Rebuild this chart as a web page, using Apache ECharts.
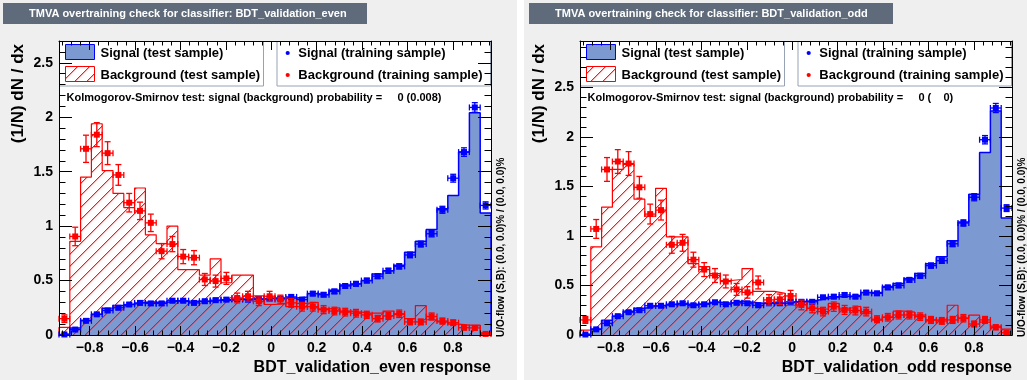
<!DOCTYPE html>
<html>
<head>
<meta charset="utf-8">
<script src="https://cdn.jsdelivr.net/npm/echarts@6/dist/echarts.min.js"></script>
<style>
  html, body { margin: 0; padding: 0; background: #ffffff; }
  #chart { width: 1027px; height: 380px; }
</style>
</head>
<body>
<div id="chart"></div>
<script>
// Binning of the BDT response histograms (shared by both folds)
const XMIN = -0.935;
const XMAX = 0.968;
const NBINS = 40;

// Tick labels
const xMajorTicks = [-0.8, -0.6, -0.4, -0.2, 0, 0.2, 0.4, 0.6, 0.8];
const yMajorTicks = [0, 0.5, 1, 1.5, 2, 2.5];

// Panel titles and texts
const classifierNames = ['BDT_validation_even', 'BDT_validation_odd'];
const ksResults = ['0 (0.008)', '0 (    0)'];
const yMaxes = [2.70, 2.966];

// ---- fold "even" ----
const sigTestEven = [0.01, 0.065, 0.135, 0.19, 0.245, 0.27, 0.285, 0.30, 0.30, 0.30,
  0.31, 0.31, 0.31, 0.31, 0.32, 0.32, 0.33, 0.33, 0.33, 0.34,
  0.34, 0.34, 0.35, 0.38, 0.37, 0.41, 0.46, 0.47, 0.50, 0.56,
  0.59, 0.64, 0.76, 0.86, 0.97, 1.16, 1.28, 1.68, 2.04, 1.12];
const bkgTestEven = [0.07, 0.86, 1.45, 1.94, 1.51, 1.30, 1.17, 1.35, 0.92, 0.84,
  1.00, 0.60, 0.60, 0.55, 0.70, 0.48, 0.55, 0.55, 0.36, 0.28,
  0.29, 0.26, 0.29, 0.30, 0.24, 0.25, 0.22, 0.21, 0.20, 0.20,
  0.22, 0.19, 0.15, 0.27, 0.14, 0.12, 0.10, 0.09, 0.09, 0.02];
const sigTrainEven = [0.005, 0.05, 0.13, 0.19, 0.225, 0.25, 0.28, 0.295, 0.29, 0.29,
  0.315, 0.315, 0.295, 0.31, 0.32, 0.325, 0.33, 0.325, 0.33, 0.335,
  0.335, 0.35, 0.325, 0.38, 0.37, 0.40, 0.45, 0.47, 0.50, 0.54,
  0.59, 0.63, 0.735, 0.835, 0.93, 1.15, 1.44, 1.68, 2.09, 1.19];
const sigTrainErrEven = [0.005, 0.01, 0.012, 0.014, 0.015, 0.016, 0.016, 0.017, 0.017, 0.017,
  0.017, 0.017, 0.017, 0.017, 0.017, 0.017, 0.018, 0.018, 0.018, 0.018,
  0.018, 0.018, 0.018, 0.019, 0.019, 0.02, 0.02, 0.021, 0.021, 0.022,
  0.023, 0.024, 0.026, 0.027, 0.029, 0.032, 0.036, 0.039, 0.044, 0.033];
const bkgTrainEven = [0.15, 0.905, 1.71, 1.84, 1.67, 1.47, 1.215, 1.14, 1.03, 0.77,
  0.835, 0.72, 0.71, 0.51, 0.495, 0.52, 0.34, 0.356, 0.31, 0.356,
  0.326, 0.295, 0.26, 0.26, 0.233, 0.22, 0.21, 0.20, 0.185, 0.15,
  0.175, 0.195, 0.12, 0.12, 0.17, 0.128, 0.113, 0.067, 0.065, 0.01];
const bkgTrainErrEven = [0.035, 0.085, 0.125, 0.11, 0.105, 0.095, 0.085, 0.08, 0.08, 0.07,
  0.07, 0.065, 0.065, 0.055, 0.055, 0.055, 0.045, 0.045, 0.04, 0.045,
  0.04, 0.04, 0.04, 0.04, 0.037, 0.035, 0.035, 0.035, 0.033, 0.03,
  0.032, 0.034, 0.027, 0.027, 0.032, 0.028, 0.026, 0.02, 0.02, 0.008];

// ---- fold "odd" ----
const sigTestOdd = [0.01, 0.06, 0.15, 0.19, 0.24, 0.27, 0.29, 0.30, 0.31, 0.31,
  0.31, 0.32, 0.33, 0.32, 0.34, 0.33, 0.32, 0.33, 0.32, 0.33,
  0.34, 0.35, 0.37, 0.387, 0.39, 0.40, 0.43, 0.43, 0.49, 0.52,
  0.57, 0.62, 0.72, 0.79, 0.95, 1.14, 1.42, 1.84, 2.26, 1.18];
const bkgTestOdd = [0.05, 0.89, 1.29, 1.67, 1.72, 1.37, 1.20, 1.48, 0.99, 0.99,
  0.72, 0.69, 0.62, 0.55, 0.56, 0.67, 0.44, 0.44, 0.42, 0.30,
  0.31, 0.27, 0.26, 0.32, 0.27, 0.29, 0.22, 0.15, 0.18, 0.24,
  0.23, 0.20, 0.15, 0.16, 0.30, 0.17, 0.20, 0.13, 0.09, 0.06];
const sigTrainOdd = [0.005, 0.057, 0.118, 0.19, 0.23, 0.25, 0.295, 0.295, 0.31, 0.32,
  0.30, 0.31, 0.33, 0.31, 0.325, 0.32, 0.30, 0.32, 0.32, 0.335,
  0.335, 0.335, 0.38, 0.387, 0.404, 0.387, 0.428, 0.42, 0.48, 0.50,
  0.556, 0.597, 0.70, 0.75, 0.92, 1.13, 1.39, 1.97, 2.29, 1.28];
const sigTrainErrOdd = [0.005, 0.01, 0.012, 0.014, 0.015, 0.016, 0.017, 0.017, 0.017, 0.017,
  0.017, 0.017, 0.018, 0.017, 0.018, 0.017, 0.017, 0.017, 0.017, 0.018,
  0.018, 0.018, 0.019, 0.019, 0.02, 0.019, 0.02, 0.02, 0.021, 0.022,
  0.023, 0.024, 0.026, 0.027, 0.029, 0.032, 0.036, 0.042, 0.046, 0.034];
const bkgTrainOdd = [0.152, 1.07, 1.67, 1.75, 1.73, 1.49, 1.22, 1.26, 0.91, 0.93,
  0.76, 0.66, 0.60, 0.54, 0.46, 0.43, 0.53, 0.354, 0.36, 0.394,
  0.303, 0.27, 0.236, 0.286, 0.253, 0.247, 0.236, 0.159, 0.179, 0.202,
  0.202, 0.185, 0.152, 0.142, 0.152, 0.169, 0.111, 0.152, 0.078, 0.023];
const bkgTrainErrOdd = [0.035, 0.095, 0.12, 0.12, 0.12, 0.11, 0.1, 0.1, 0.085, 0.085,
  0.075, 0.07, 0.07, 0.065, 0.06, 0.058, 0.065, 0.053, 0.053, 0.056,
  0.049, 0.046, 0.043, 0.047, 0.045, 0.044, 0.043, 0.035, 0.038, 0.04,
  0.04, 0.038, 0.035, 0.034, 0.035, 0.037, 0.03, 0.035, 0.025, 0.013];

const folds = [
  { sigTest: sigTestEven, bkgTest: bkgTestEven, sigTrain: sigTrainEven, sigErr: sigTrainErrEven, bkgTrain: bkgTrainEven, bkgErr: bkgTrainErrEven },
  { sigTest: sigTestOdd, bkgTest: bkgTestOdd, sigTrain: sigTrainOdd, sigErr: sigTrainErrOdd, bkgTrain: bkgTrainOdd, bkgErr: bkgTrainErrOdd }
];

// ---- styling / layout ----
const FONT = '"Liberation Sans", Arial, Helvetica, sans-serif';
const SIG_FILL = '#7d99d1';
const SIG_LINE = '#0000ff';
const BKG_LINE = '#ff0000';
const PANEL_BG = '#efefef';
const HEADER_BG = '#5f6b7b';
const LEGEND_BORDER = '#97a3b4';

const panelOffset = [0, 521];
const panelBg = [[0, 517], [524, 503]];
const headerX = [3, 529];
const PLOT_L = 59, PLOT_T = 41, PLOT_W = 432, PLOT_H = 294;
const AXIS_Z = 20;

const BIN_W = (XMAX - XMIN) / NBINS;
const xMinorTicks = [];
for (let k = -25; k <= 25; k++) {
  const v = Math.round(k * 0.04 * 1000) / 1000;
  if (k % 5 !== 0 && v > XMIN && v < XMAX) xMinorTicks.push(v);
}
function yMinorTicks(ymax) {
  const out = [];
  for (let k = 1; k * 0.1 < ymax; k++) if (k % 5 !== 0) out.push(Math.round(k * 10) / 100);
  return out;
}

// diagonal red hatching ("/") for the background histogram, painted pixel by pixel
function makeHatch() {
  const s = 12;
  const c = document.createElement('canvas');
  c.width = s; c.height = s;
  const g = c.getContext('2d');
  g.clearRect(0, 0, s, s);
  for (let i = 0; i < s; i++) {
    g.fillStyle = 'rgba(255,0,0,0.9)';
    g.fillRect(i, s - 1 - i, 1, 1);
    g.fillStyle = 'rgba(255,0,0,0.35)';
    g.fillRect(i, (s - i) % s, 1, 1);
  }
  return c;
}
const hatchCanvas = makeHatch();
const hatchFill = { image: hatchCanvas, repeat: 'repeat' };

const fmtX = v => (v < 0 ? '\u2212' + String(Math.abs(v)) : String(v));

const grid = [], xAxis = [], yAxis = [], series = [], graphic = [];

folds.forEach((f, p) => {
  const ox = panelOffset[p];
  const ymax = yMaxes[p];
  grid.push({ left: ox + PLOT_L, top: PLOT_T, width: PLOT_W, height: PLOT_H,
    show: true, backgroundColor: '#ffffff', borderWidth: 0, containLabel: false });

  const base = { gridIndex: p, type: 'value', min: XMIN, max: XMAX, z: AXIS_Z, splitLine: { show: false } };
  const line = { show: true, onZero: false, lineStyle: { color: '#000000', width: 1 } };
  const noLine = { show: false, onZero: false };
  // bottom axis with labels + major ticks
  xAxis.push(Object.assign({}, base, { position: 'bottom', axisLine: line,
    axisTick: { show: true, inside: true, length: 9, customValues: xMajorTicks, lineStyle: { color: '#000', width: 1 } },
    axisLabel: { show: true, customValues: xMajorTicks, formatter: fmtX, margin: 6,
      fontFamily: FONT, fontWeight: 'bold', fontSize: 14, color: '#000' } }));
  // top frame with major ticks
  xAxis.push(Object.assign({}, base, { position: 'top', axisLine: line,
    axisTick: { show: true, inside: true, length: 9, customValues: xMajorTicks, lineStyle: { color: '#000', width: 1 } },
    axisLabel: { show: false } }));
  // minor ticks bottom / top
  ['bottom', 'top'].forEach(pos => xAxis.push(Object.assign({}, base, { position: pos,
    axisLine: noLine,
    axisTick: { show: true, inside: true, length: 4.5, customValues: xMinorTicks, lineStyle: { color: '#000', width: 1 } },
    axisLabel: { show: false } })));

  const ybase = { gridIndex: p, type: 'value', min: 0, max: ymax, z: AXIS_Z, splitLine: { show: false } };
  yAxis.push(Object.assign({}, ybase, { position: 'left', axisLine: line,
    axisTick: { show: true, inside: true, length: 13, customValues: yMajorTicks, lineStyle: { color: '#000', width: 1 } },
    axisLabel: { show: true, customValues: yMajorTicks, margin: 6,
      fontFamily: FONT, fontWeight: 'bold', fontSize: 14, color: '#000' } }));
  yAxis.push(Object.assign({}, ybase, { position: 'right', axisLine: line,
    axisTick: { show: true, inside: true, length: 13, customValues: yMajorTicks, lineStyle: { color: '#000', width: 1 } },
    axisLabel: { show: false } }));
  ['left', 'right'].forEach(pos => yAxis.push(Object.assign({}, ybase, { position: pos,
    axisLine: noLine,
    axisTick: { show: true, inside: true, length: 6.5, customValues: yMinorTicks(ymax), lineStyle: { color: '#000', width: 1 } },
    axisLabel: { show: false } })));

  const xi = p * 4, yi = p * 4;

  // step histogram: one point per lower bin edge, closed down to zero at both ends
  function histData(vals) {
    const d = [[XMIN, 0]];
    vals.forEach((v, i) => d.push([XMIN + i * BIN_W, v]));
    d.push([XMAX, vals[vals.length - 1]]);
    d.push([XMAX, 0]);
    return d;
  }
  series.push({ type: 'line', name: 'Signal (test sample)', xAxisIndex: xi, yAxisIndex: yi,
    data: histData(f.sigTest), step: 'end', symbol: 'none', z: 2,
    lineStyle: { color: SIG_LINE, width: 1.5 }, areaStyle: { color: SIG_FILL, opacity: 1, origin: 'start' } });
  series.push({ type: 'line', name: 'Background (test sample)', xAxisIndex: xi, yAxisIndex: yi,
    data: histData(f.bkgTest), step: 'end', symbol: 'none', z: 3,
    lineStyle: { color: BKG_LINE, width: 1.2 }, areaStyle: { color: hatchFill, opacity: 1, origin: 'start' } });

  // training samples: markers with x (bin width) and y error bars
  function pointSeries(name, vals, errs, color) {
    return { type: 'custom', name, xAxisIndex: xi, yAxisIndex: yi, z: 5,
      data: vals.map((v, i) => [XMIN + (i + 0.5) * BIN_W, v, errs[i]]),
      renderItem: (params, api) => {
        const x = api.value(0), y = api.value(1), e = api.value(2);
        const c = api.coord([x, y]);
        const l = api.coord([x - BIN_W / 2, y]);
        const r = api.coord([x + BIN_W / 2, y]);
        const t = api.coord([x, y + e]);
        const b = api.coord([x, Math.max(0, y - e)]);
        const st = { stroke: color, lineWidth: 1.3 };
        const cap = 3;
        const kids = [
          { type: 'line', shape: { x1: l[0], y1: c[1], x2: r[0], y2: c[1] }, style: st },
          { type: 'line', shape: { x1: l[0], y1: c[1] - cap, x2: l[0], y2: c[1] + cap }, style: st },
          { type: 'line', shape: { x1: r[0], y1: c[1] - cap, x2: r[0], y2: c[1] + cap }, style: st },
          { type: 'line', shape: { x1: c[0], y1: t[1], x2: c[0], y2: b[1] }, style: st },
          { type: 'line', shape: { x1: c[0] - cap, y1: t[1], x2: c[0] + cap, y2: t[1] }, style: st },
          { type: 'line', shape: { x1: c[0] - cap, y1: b[1], x2: c[0] + cap, y2: b[1] }, style: st },
          { type: 'rect', shape: { x: c[0] - 3, y: c[1] - 3, width: 6, height: 6 }, style: { fill: color } }
        ];
        return { type: 'group', children: kids };
      } };
  }
  series.push(pointSeries('Signal (training sample)', f.sigTrain, f.sigErr, SIG_LINE));
  series.push(pointSeries('Background (training sample)', f.bkgTrain, f.bkgErr, BKG_LINE));

  // panel decorations
  graphic.push({ type: 'rect', z: -10, shape: { x: panelBg[p][0], y: 0, width: panelBg[p][1], height: 380 }, style: { fill: PANEL_BG } });
  graphic.push({ type: 'rect', z: 10, shape: { x: headerX[p], y: 3, width: 364, height: 21 }, style: { fill: HEADER_BG } });
  graphic.push({ type: 'text', z: 11, x: headerX[p] + 26, y: 13.5,
    style: { text: 'TMVA overtraining check for classifier: ' + classifierNames[p], fill: '#ffffff',
      font: 'bold 11px ' + FONT, verticalAlign: 'middle', align: 'left' } });
  graphic.push({ type: 'text', z: 11, x: ox + 18, y: 44, rotation: Math.PI / 2,
    style: { text: '(1/N) dN / dx', fill: '#000', font: 'bold 17px ' + FONT, align: 'right', verticalAlign: 'middle' } });
  graphic.push({ type: 'text', z: 11, x: ox + 491, y: 368,
    style: { text: classifierNames[p] + ' response', fill: '#000', font: 'bold 16px ' + FONT, align: 'right', verticalAlign: 'middle' } });
  graphic.push({ type: 'text', z: 11, x: ox + 501, y: 337, rotation: Math.PI / 2,
    style: { text: 'U/O-flow (S,B): (0.0, 0.0)% / (0.0, 0.0)%', fill: '#000', font: 'bold 10px ' + FONT, align: 'left', verticalAlign: 'middle' } });

  // legend boxes (the frame ticks are drawn over them)
  graphic.push({ type: 'rect', z: 12, shape: { x: ox + 59.5, y: 41.5, width: 204, height: 44.5 },
    style: { fill: '#ffffff', stroke: LEGEND_BORDER, lineWidth: 1 } });
  graphic.push({ type: 'rect', z: 12, shape: { x: ox + 277, y: 41.5, width: 213.5, height: 44.5 },
    style: { fill: '#ffffff', stroke: LEGEND_BORDER, lineWidth: 1 } });
  graphic.push({ type: 'rect', z: 13, shape: { x: ox + 65.5, y: 44.5, width: 29, height: 15 },
    style: { fill: SIG_FILL, stroke: SIG_LINE, lineWidth: 1 } });
  graphic.push({ type: 'rect', z: 13, shape: { x: ox + 65.5, y: 66.5, width: 29, height: 15 },
    style: { fill: hatchFill, stroke: BKG_LINE, lineWidth: 1 } });
  graphic.push({ type: 'circle', z: 13, shape: { cx: ox + 287.7, cy: 53, r: 2.1 }, style: { fill: SIG_LINE } });
  graphic.push({ type: 'circle', z: 13, shape: { cx: ox + 287.7, cy: 75, r: 2.1 }, style: { fill: BKG_LINE } });
  [['Signal (test sample)', 100.5, 53], ['Background (test sample)', 100.5, 75],
   ['Signal (training sample)', 298.3, 53], ['Background (training sample)', 298.3, 75]].forEach(([t, x, y]) => {
    graphic.push({ type: 'text', z: 13, x: ox + x, y,
      style: { text: t, fill: '#000', font: 'bold 13px ' + FONT, align: 'left', verticalAlign: 'middle' } });
  });
  graphic.push({ type: 'text', z: 13, x: ox + 66.5, y: 97.5,
    style: { text: 'Kolmogorov-Smirnov test: signal (background) probability =     ' + ksResults[p],
      fill: '#000', font: 'bold 11px ' + FONT, align: 'left', verticalAlign: 'middle' } });
});

const chart = echarts.init(document.getElementById('chart'), null, { renderer: 'canvas', devicePixelRatio: 1 });
chart.setOption({
  animation: false,
  backgroundColor: '#ffffff',
  grid, xAxis, yAxis, series, graphic
});
</script>
</body>
</html>
